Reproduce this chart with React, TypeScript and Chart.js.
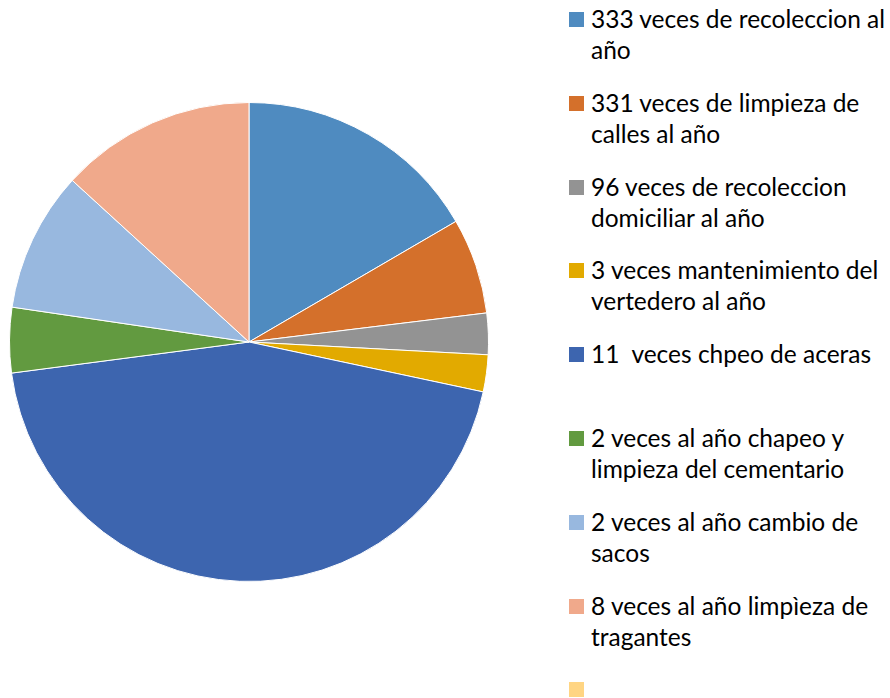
import React, { useEffect, useRef } from "react";
import { Chart, registerables } from "chart.js";

Chart.register(...registerables);

const categories = [
  "333 veces de recoleccion al\naño",
  "331 veces de limpieza de\ncalles al año",
  "96 veces de recoleccion\ndomiciliar al año",
  "3 veces mantenimiento del\nvertedero al año",
  "11  veces chpeo de aceras",
  "2 veces al año chapeo y\nlimpieza del cementario",
  "2 veces al año cambio de\nsacos",
  "8 veces al año limpìeza de\ntragantes",
  "",
];

const values = [16.6, 6.46, 2.79, 2.49, 44.58, 4.4, 9.46, 13.21, 0];

const colors = [
  "#4F8BC0",
  "#D4702B",
  "#939393",
  "#E2AA00",
  "#3D65AF",
  "#629A40",
  "#98B8DF",
  "#F0A98B",
  "#FFD583",
];

const FONT = "Lato, 'Noto Sans', sans-serif";

export default function App() {
  const ref = useRef<HTMLCanvasElement | null>(null);

  useEffect(() => {
    if (!ref.current) return;
    const chart = new Chart(ref.current, {
      type: "pie",
      data: {
        labels: categories,
        datasets: [
          {
            data: values,
            backgroundColor: colors,
            borderColor: "#FFFFFF",
            borderWidth: 1,
          },
        ],
      },
      options: {
        responsive: false,
        animation: false,
        layout: { padding: { left: 9, right: 9, top: 102, bottom: 116 } },
        plugins: {
          legend: { display: false },
          tooltip: { enabled: false },
        },
      },
    });
    return () => chart.destroy();
  }, []);

  return (
    <div
      style={{
        position: "absolute",
        left: 0,
        top: 0,
        width: 890,
        height: 698,
        background: "#FFFFFF",
        overflow: "hidden",
      }}
    >
      <canvas
        ref={ref}
        width={498}
        height={698}
        style={{ position: "absolute", left: 0, top: 0, width: 498, height: 698 }}
      />
      <div style={{ position: "absolute", left: 569, top: 3, width: 321 }}>
        {categories.map((c, i) => (
          <div
            key={i}
            style={{
              position: "relative",
              height: 83.8,
              fontFamily: FONT,
              fontSize: 24.5,
              lineHeight: "31px",
              color: "#000000",
              whiteSpace: "pre-wrap",
            }}
          >
            <span
              style={{
                position: "absolute",
                left: 0,
                top: 9,
                width: 15,
                height: 15,
                background: colors[i],
              }}
            />
            <div style={{ marginLeft: 22 }}>{c}</div>
          </div>
        ))}
      </div>
    </div>
  );
}
